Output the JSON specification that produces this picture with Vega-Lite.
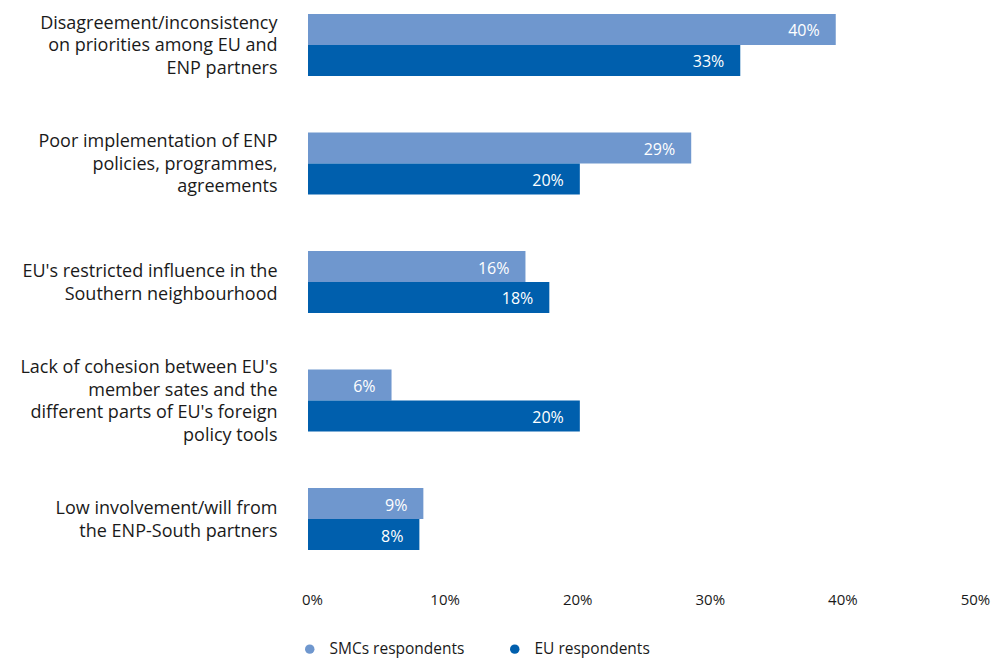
{
  "$schema": "https://vega.github.io/schema/vega-lite/v6.json",
  "autosize": {"type": "none"},
  "padding": {"left": 308, "top": 0, "right": 27, "bottom": 94},
  "width": 663,
  "height": 564,
  "background": "white",
  "config": {
    "view": {"stroke": null},
    "font": "Open Sans",
    "axis": {"labelFont": "Open Sans", "labelColor": "#1a1a1a"},
    "legend": {"labelFont": "Open Sans"}
  },
  "data": {
    "values": [
      {"category": "Disagreement/inconsistency|on priorities among EU and|ENP partners", "series": "SMCs respondents", "value": 39.8, "label": "40%"},
      {"category": "Disagreement/inconsistency|on priorities among EU and|ENP partners", "series": "EU respondents", "value": 32.6, "label": "33%"},
      {"category": "Poor implementation of ENP|policies, programmes,|agreements", "series": "SMCs respondents", "value": 28.9, "label": "29%"},
      {"category": "Poor implementation of ENP|policies, programmes,|agreements", "series": "EU respondents", "value": 20.5, "label": "20%"},
      {"category": "EU's restricted influence in the|Southern neighbourhood", "series": "SMCs respondents", "value": 16.4, "label": "16%"},
      {"category": "EU's restricted influence in the|Southern neighbourhood", "series": "EU respondents", "value": 18.2, "label": "18%"},
      {"category": "Lack of cohesion between EU's|member sates and the|different parts of EU's foreign|policy tools", "series": "SMCs respondents", "value": 6.3, "label": "6%"},
      {"category": "Lack of cohesion between EU's|member sates and the|different parts of EU's foreign|policy tools", "series": "EU respondents", "value": 20.5, "label": "20%"},
      {"category": "Low involvement/will from|the ENP-South partners", "series": "SMCs respondents", "value": 8.7, "label": "9%"},
      {"category": "Low involvement/will from|the ENP-South partners", "series": "EU respondents", "value": 8.4, "label": "8%"}
    ]
  },
  "encoding": {
    "y": {
      "field": "category",
      "type": "nominal",
      "sort": null,
      "scale": {"paddingInner": 0.477, "paddingOuter": 0.118},
      "axis": {
        "title": null,
        "domain": false,
        "ticks": false,
        "labelExpr": "split(datum.label, '|')",
        "labelFontSize": 18,
        "labelLineHeight": 22.5,
        "labelOffset": {
          "condition": [
            {"test": "length(split(datum.value, '|')) == 4", "value": -32.25},
            {"test": "length(split(datum.value, '|')) == 3", "value": -21}
          ],
          "value": -9.75
        },
        "labelPadding": 31,
        "labelLimit": 400,
        "labelAlign": "right",
        "labelBaseline": "middle"
      }
    },
    "yOffset": {
      "field": "series",
      "type": "nominal",
      "sort": ["SMCs respondents", "EU respondents"],
      "scale": {"paddingInner": 0, "paddingOuter": 0}
    },
    "x": {
      "field": "value",
      "type": "quantitative",
      "scale": {"domain": [0, 50], "nice": false},
      "axis": {
        "title": null,
        "values": [0, 10, 20, 30, 40, 50],
        "labelExpr": "datum.value + '%'",
        "domain": false,
        "ticks": false,
        "grid": false,
        "labelFontSize": 15,
        "labelPadding": 28,
        "labelOffset": 4,
        "labelFlush": false
      }
    }
  },
  "layer": [
    {
      "mark": {"type": "bar", "cornerRadius": 0},
      "encoding": {
        "color": {
          "field": "series",
          "type": "nominal",
          "sort": ["SMCs respondents", "EU respondents"],
          "scale": {"domain": ["SMCs respondents", "EU respondents"], "range": ["#6F97CE", "#005FAD"]},
          "legend": {
            "title": null,
            "orient": "none",
            "direction": "horizontal",
            "legendX": -6,
            "legendY": 641,
            "symbolType": "circle",
            "symbolSize": 90,
            "labelFontSize": 15.5,
            "labelLimit": 300,
            "labelColor": "#1a1a1a",
            "labelOffset": 12,
            "columnPadding": 42
          }
        }
      }
    },
    {
      "mark": {"type": "text", "align": "right", "baseline": "middle", "dx": -16, "dy": 2, "color": "white", "fontSize": 16, "font": "Open Sans"},
      "encoding": {
        "text": {"field": "label"}
      }
    }
  ]
}
